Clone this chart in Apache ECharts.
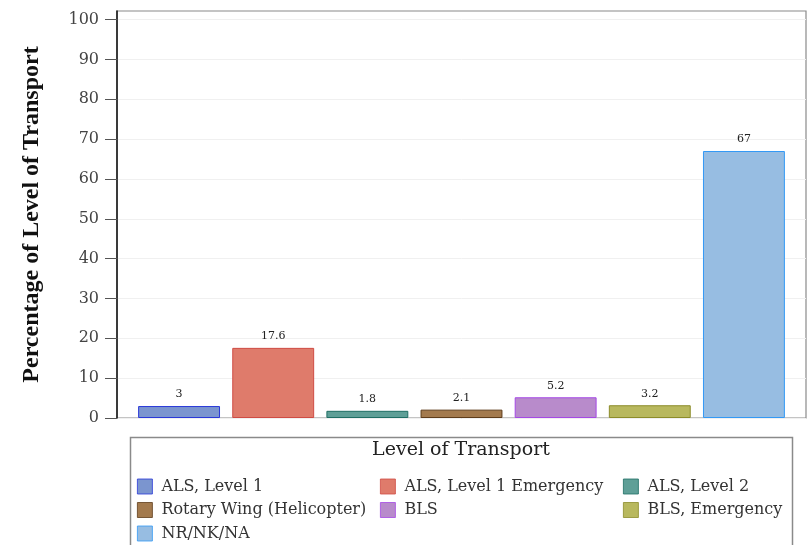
<!DOCTYPE html>
<html>
<head>
<meta charset="utf-8">
<script src="https://cdn.jsdelivr.net/npm/echarts@6/dist/echarts.min.js"></script>
<style>
  html, body { margin: 0; padding: 0; background: #fff; }
  #chart { width: 808px; height: 545px; }
</style>
</head>
<body>
<div id="chart"></div>
<script>
// Level of transport categories and their percentages
const categories = [
  'ALS, Level 1',
  'ALS, Level 1 Emergency',
  'ALS, Level 2',
  'Rotary Wing (Helicopter)',
  'BLS',
  'BLS, Emergency',
  'NR/NK/NA'
];
const values = [3, 17.6, 1.8, 2.1, 5.2, 3.2, 67];

const fillColors = ['#7b95cf', '#df7b6b', '#5f9f97', '#a37a4e', '#b88bcb', '#b8b85e', '#97bde2'];
const edgeColors = ['#2a38d8', '#cf4c44', '#1f6e64', '#5e3c1a', '#a549e5', '#8c8c2a', '#3399f5'];

// legend columns (indices into categories)
const legendColumns = [[0, 3, 6], [1, 4], [2, 5]];
const legendLefts = [137, 380, 623];

const serif = 'DejaVu Serif';

const chart = echarts.init(document.getElementById('chart'));

// one series per category, stacked so each category holds a single full-width bar
const series = categories.map((name, i) => ({
  name: name,
  type: 'bar',
  stack: 'all',
  xAxisIndex: 2,
  yAxisIndex: 2,
  barCategoryGap: '13%',
  data: values.map((v, j) => (j === i ? v : '-')),
  itemStyle: { color: fillColors[i], borderColor: edgeColors[i], borderWidth: 1 },
  label: {
    show: true,
    position: 'top',
    distance: 6,
    fontFamily: serif,
    fontSize: 11,
    color: '#222'
  }
}));

const legends = legendColumns.map((col, k) => ({
  orient: 'vertical',
  left: legendLefts[k],
  top: 478.5,
  padding: 0,
  itemWidth: 15,
  itemHeight: 15,
  itemGap: 7.5,
  icon: 'rect',
  selectedMode: false,
  data: col.map(i => categories[i]),
  itemStyle: { borderWidth: 0.8 },
  textStyle: { fontFamily: serif, fontSize: 16, color: '#333', padding: [0, 0, 0, 4] }
}));

chart.setOption({
  animation: false,
  backgroundColor: '#fff',
  title: {
    text: 'Level of Transport',
    left: 461,
    top: 441,
    textAlign: 'center',
    padding: 0,
    textStyle: { fontFamily: serif, fontSize: 19, fontWeight: 'normal', color: '#222' }
  },
  legend: legends,
  grid: [
    // outer frame
    { left: 117, right: 2, top: 11, bottom: 127, show: true, borderColor: '#8a8a8a', borderWidth: 1.2, backgroundColor: 'transparent' },
    // value scale with ticks and gridlines
    { left: 117, right: 2, top: 19.5, bottom: 127 },
    // bars, inset from the frame
    { left: 132, right: 17, top: 19.5, bottom: 127 }
  ],
  xAxis: [
    { gridIndex: 0, type: 'value', show: false },
    { gridIndex: 1, type: 'value', show: false },
    { gridIndex: 2, type: 'category', data: categories, show: false }
  ],
  yAxis: [
    {
      gridIndex: 0, type: 'value', min: 0, max: 1,
      name: 'Percentage of Level of Transport',
      nameLocation: 'middle',
      nameRotate: 90,
      nameGap: 73,
      nameTextStyle: { fontFamily: 'Liberation Serif', fontSize: 24, fontWeight: 'bold', color: '#111' },
      axisLine: { show: true, lineStyle: { color: '#111', width: 1.5 } },
      axisTick: { show: false }, axisLabel: { show: false }, splitLine: { show: false }
    },
    {
      gridIndex: 1, type: 'value', min: 0, max: 100, interval: 10,
      axisLine: { show: false },
      axisTick: { show: true, length: 12, lineStyle: { color: '#555' } },
      axisLabel: { margin: 18, fontFamily: serif, fontSize: 16, color: '#444' },
      splitLine: { show: true, lineStyle: { color: '#f0f0f0', width: 1 } }
    },
    { gridIndex: 2, type: 'value', min: 0, max: 100, show: false, splitLine: { show: false } }
  ],
  graphic: [
    {
      type: 'rect',
      shape: { x: 130.5, y: 437.5, width: 662, height: 130 },
      style: { fill: 'none', stroke: '#8a8a8a', lineWidth: 1.5 },
      silent: true
    }
  ],
  series: series
});
</script>
</body>
</html>
